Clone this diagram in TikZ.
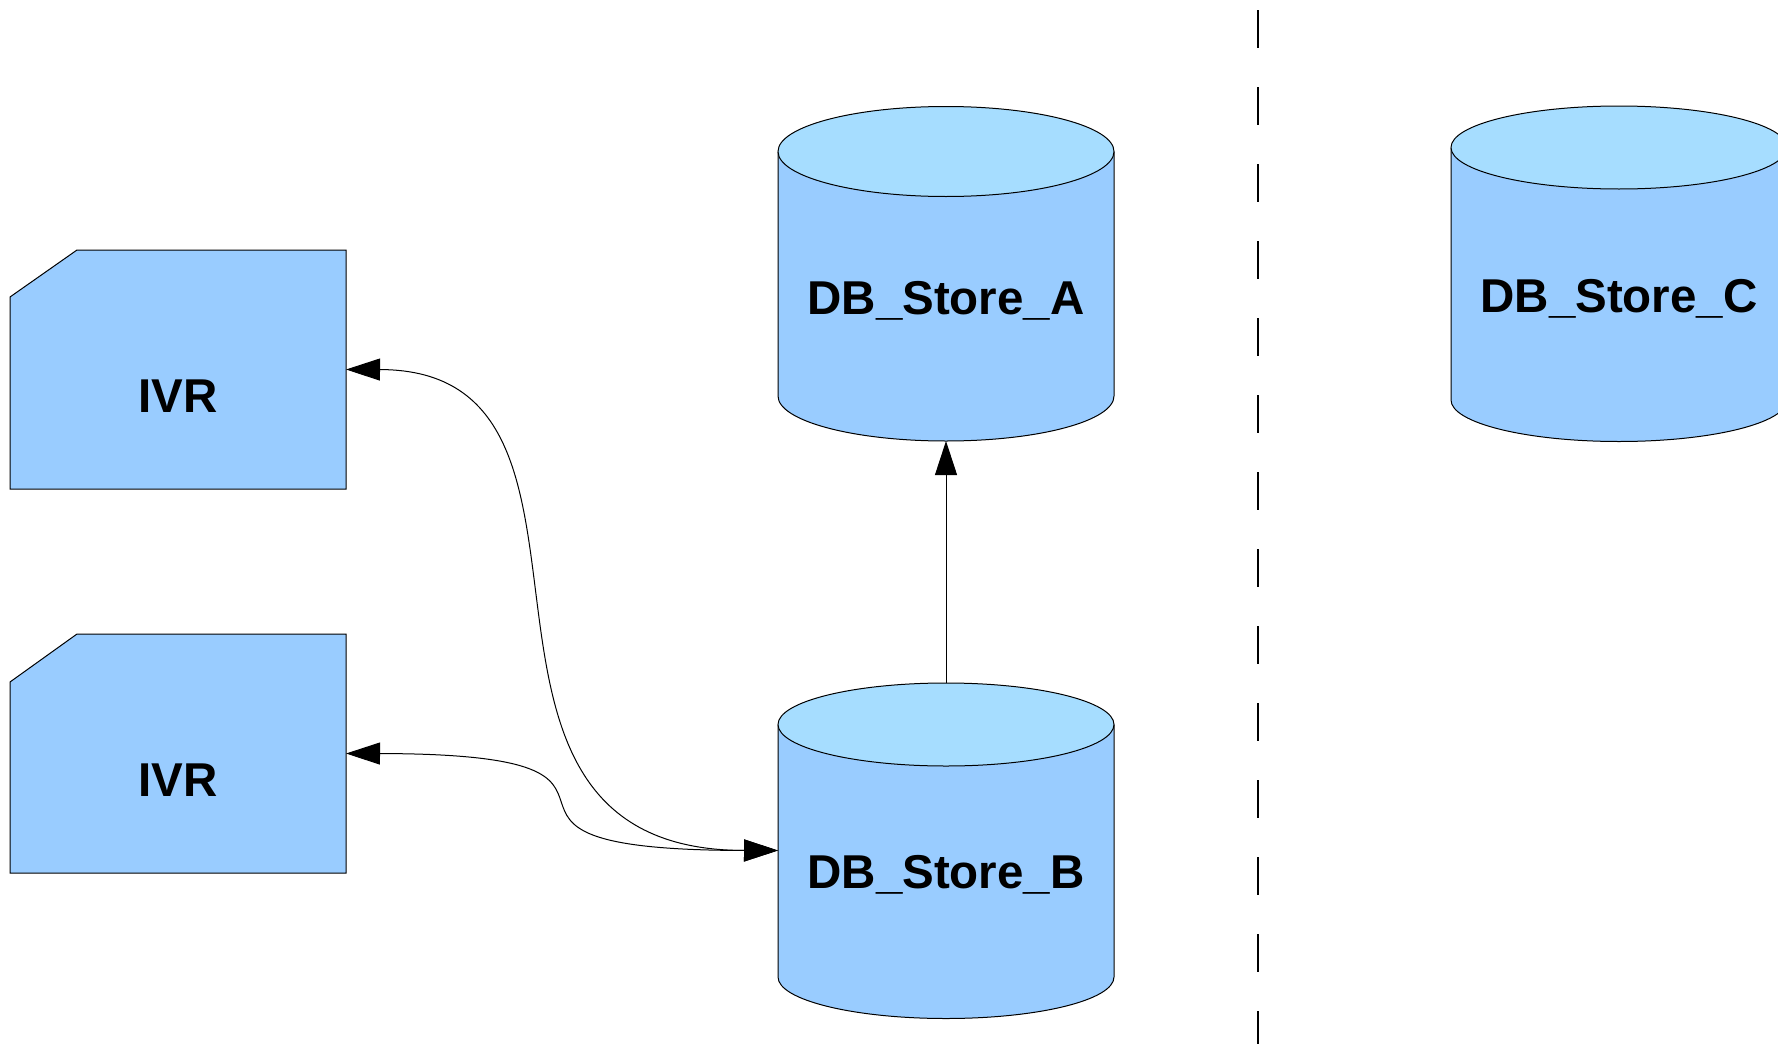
\documentclass[tikz,border=0pt]{standalone}
\usepackage{fontspec}
\setmainfont{Liberation Sans}
\usetikzlibrary{arrows.meta}
\definecolor{bodyblue}{HTML}{99CCFF}
\definecolor{topblue}{HTML}{A6DDFF}
\newcommand\dbcyl[5]{% cx, half width, top-center y, bottom-center y, ry
  \fill[bodyblue] (#1-#2,#3) rectangle (#1+#2,#4);
  \fill[bodyblue] (#1,#4) ellipse [x radius=#2pt, y radius=#5pt];
  \draw[outl] (#1-#2,#3) -- (#1-#2,#4) arc [start angle=180, end angle=360, x radius=#2pt, y radius=#5pt] -- (#1+#2,#3);
  \filldraw[outl, fill=topblue] (#1,#3) ellipse [x radius=#2pt, y radius=#5pt];
}
\begin{document}
\begin{tikzpicture}[x=1pt,y=-1pt,
  outl/.style={draw=black, line width=1pt},
  frame/.style={inner sep=0pt, outer sep=0pt, draw=none},
  lbl/.style={inner sep=0pt, font=\fontsize{47.5}{57}\selectfont\bfseries},
  conn/.style={line width=1pt, {Triangle[length=34pt,width=22pt]}-{Triangle[length=34pt,width=22pt]}},
  oneway/.style={line width=1pt, -{Triangle[length=34pt,width=22pt]}},
  sep/.style={line width=1.3pt, dash pattern=on 38pt off 39pt}]
\useasboundingbox (0,0) rectangle (1778,1044);
\clip (0,0) rectangle (1778,1044);
\fill[white] (0,0) rectangle (1778,1044);

% IVR boxes
\filldraw[outl, fill=bodyblue] (77,250) -- (346,250) -- (346,489) -- (10,489) -- (10,297) -- cycle;
\filldraw[outl, fill=bodyblue] (77,634) -- (346,634) -- (346,873) -- (10,873) -- (10,682) -- cycle;
\node[frame, minimum width=336pt, minimum height=239pt] (ivr1) at (178,369.5) {};
\node[frame, minimum width=336pt, minimum height=239pt] (ivr2) at (178,753.5) {};
\node[lbl, anchor=base] (ivr1t) at (178,412) {IVR};
\node[lbl, anchor=base] (ivr2t) at (178,796) {IVR};

% cylinders
\dbcyl{946}{168}{151.5}{396}{45}
\dbcyl{946}{168}{724.5}{977}{41.5}
\dbcyl{1619}{168}{147.5}{400}{41.5}
\node[frame, minimum width=336pt, minimum height=335pt] (A) at (946,273.5) {};
\node[frame, minimum width=336pt, minimum height=335pt] (B) at (946,850.5) {};
\node[frame, minimum width=336pt, minimum height=335pt] (C) at (1619,273.5) {};
\node[lbl, anchor=base] (At) at (946,314) {DB\_Store\_A};
\node[lbl, anchor=base] (Bt) at (946,888) {DB\_Store\_B};
\node[lbl, anchor=base] (Ct) at (1619,312) {DB\_Store\_C};

% connectors
\draw[oneway] (B.north) -- (A.south);
\draw[conn] (ivr1.east) .. controls (650,370) and (410,850) .. (B.west);
\draw[conn] (ivr2.east) .. controls (711,754) and (411,850) .. (B.west);

% separator
\coordinate (stop) at (1258,10);
\coordinate (sbot) at (1258,1044);
\draw[sep] (stop) -- (sbot);
\end{tikzpicture}
\end{document}
